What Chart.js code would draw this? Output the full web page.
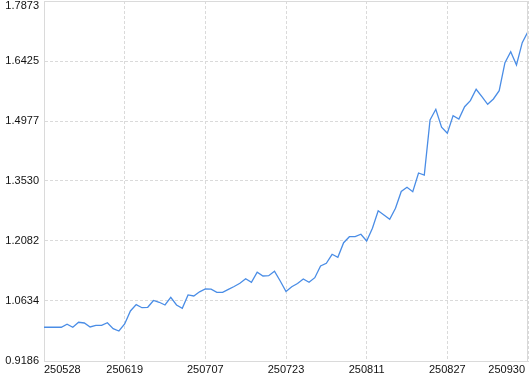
<!DOCTYPE html>
<html lang="en">
<head>
    <meta charset="UTF-8">
    <title>Net value curve</title>
    <style>
        body {
            margin: 0;
            padding: 0;
            background-color: #ffffff;
        }

        .chart-box {
            width: 530px;
            height: 374px;
            position: relative;
        }
    </style>
</head>
<body>
    <div class="chart-box">
        <canvas id="nav-chart" width="530" height="374"></canvas>
    </div>

    <script src="https://cdn.jsdelivr.net/npm/chart.js"></script>
    <script>
        // values, one per trading day
        const navValues = [
            1.0000, 1.0000, 1.0000, 1.0000, 1.0072, 1.0000, 1.0120, 1.0103, 1.0007, 1.0048,
            1.0048, 1.0110, 0.9966, 0.9910, 1.0079, 1.0393, 1.0545, 1.0472, 1.0482, 1.0646,
            1.0603, 1.0537, 1.0723, 1.0537, 1.0458, 1.0779, 1.0755, 1.0856, 1.0924, 1.0919,
            1.0844, 1.0844, 1.0916, 1.0984, 1.1061, 1.1172, 1.1085, 1.1327, 1.1237, 1.1245,
            1.1351, 1.1117, 1.0863, 1.0977, 1.1056, 1.1165, 1.1085, 1.1196, 1.1479, 1.1544,
            1.1761, 1.1689, 1.2041, 1.2186, 1.2186, 1.2244, 1.2082, 1.2388, 1.2813, 1.2709,
            1.2606, 1.2871, 1.3277, 1.3378, 1.3272, 1.3723, 1.3670, 1.5002, 1.5260, 1.4826,
            1.4681, 1.5106, 1.5026, 1.5323, 1.5468, 1.5743, 1.5564, 1.5381, 1.5509, 1.5709,
            1.6385, 1.6650, 1.6329, 1.6868, 1.7133
        ];

        // x axis labels and the day index each one sits on
        const dateLabels = ['250528', '250619', '250707', '250723', '250811', '250827', '250930'];
        const dateIndex = [0, 14, 28, 42, 56, 70, 84];

        // y axis ticks
        const yTicks = [0.9186, 1.0634, 1.2082, 1.3530, 1.4977, 1.6425, 1.7873];

        const labelFont = '11px "Liberation Sans", Arial, sans-serif';
        const gridColor = '#dadada';

        // draws the frame and the tick labels from the chart's own scales
        const axisLabels = {
            id: 'axisLabels',
            afterDraw(chart) {
                const ctx = chart.ctx;
                const area = chart.chartArea;
                const xs = chart.scales.x;
                const ys = chart.scales.y;

                ctx.save();
                ctx.strokeStyle = gridColor;
                ctx.lineWidth = 1;
                ctx.beginPath();
                ctx.moveTo(area.left, area.top + 0.5);
                ctx.lineTo(area.right - 0.5, area.top + 0.5);
                ctx.lineTo(area.right - 0.5, area.bottom);
                ctx.stroke();

                ctx.fillStyle = '#111111';
                ctx.font = labelFont;

                ctx.textAlign = 'right';
                ctx.textBaseline = 'middle';
                yTicks.forEach(v => {
                    let y = ys.getPixelForValue(v);
                    if (y < 6) y = 6;
                    ctx.fillText(v.toFixed(4), area.left - 5, y);
                });

                ctx.textBaseline = 'top';
                dateLabels.forEach((lab, i) => {
                    const x = xs.getPixelForValue(dateIndex[i]);
                    if (i === 0) {
                        ctx.textAlign = 'left';
                        ctx.fillText(lab, x, area.bottom + 3);
                    } else if (i === dateLabels.length - 1) {
                        ctx.textAlign = 'right';
                        ctx.fillText(lab, x - 3, area.bottom + 3);
                    } else {
                        ctx.textAlign = 'center';
                        ctx.fillText(lab, x, area.bottom + 3);
                    }
                });
                ctx.restore();
            }
        };

        function initChart() {
            new Chart(document.getElementById('nav-chart').getContext('2d'), {
                type: 'line',
                data: {
                    datasets: [{
                        data: navValues.map((v, i) => ({ x: i, y: v })),
                        borderColor: '#4a8de6',
                        borderWidth: 1.3,
                        pointRadius: 0,
                        tension: 0,
                        fill: false
                    }]
                },
                options: {
                    responsive: false,
                    animation: false,
                    layout: {
                        padding: { left: 44, right: 2, top: 1, bottom: 13 }
                    },
                    plugins: {
                        legend: { display: false },
                        tooltip: { enabled: false }
                    },
                    scales: {
                        x: {
                            type: 'linear',
                            min: 0,
                            max: navValues.length - 1,
                            afterBuildTicks: scale => {
                                scale.ticks = dateIndex.map(v => ({ value: v }));
                            },
                            ticks: { display: false },
                            grid: { color: gridColor, drawTicks: false },
                            border: { display: true, color: gridColor, dash: [3, 2] }
                        },
                        y: {
                            min: yTicks[0],
                            max: yTicks[yTicks.length - 1],
                            afterBuildTicks: scale => {
                                scale.ticks = yTicks.map(v => ({ value: v }));
                            },
                            ticks: { display: false },
                            grid: { color: gridColor, drawTicks: false },
                            border: { display: true, color: gridColor, dash: [3, 2] }
                        }
                    }
                },
                plugins: [axisLabels]
            });
        }

        window.onload = initChart;
    </script>
</body>
</html>
